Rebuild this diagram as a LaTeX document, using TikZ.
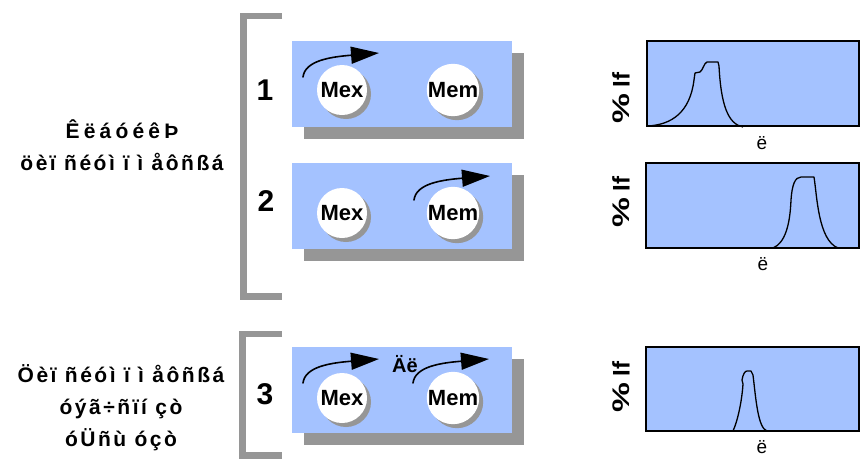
\documentclass[tikz,border=0pt]{standalone}
\usepackage{fontspec}
\setmainfont{Liberation Sans}
\newfontfamily\spacedsans[LetterSpace=12]{Liberation Sans}
\newfontfamily\widesans[LetterSpace=20]{Liberation Sans}
\usetikzlibrary{arrows.meta,shadows}

\definecolor{panelblue}{RGB}{164,194,255}
\definecolor{shadowgray}{RGB}{150,150,150}

\begin{document}
\begin{tikzpicture}[x=1pt,y=-1pt,
  panel/.style={fill=panelblue, draw=none, minimum width=220pt, minimum height=86pt,
    inner sep=0pt, drop shadow={shadow xshift=12pt, shadow yshift=-12pt, fill=shadowgray, opacity=1}},
  dot/.style={circle, fill=white, minimum size=50pt, inner sep=0pt,
    font=\bfseries\fontsize{22}{22}\selectfont,
    drop shadow={shadow xshift=4pt, shadow yshift=-4pt, fill=shadowgray, opacity=1}},
  flow/.style={-{Triangle[length=28pt,width=17pt]}, line width=1.6pt, line cap=round},
  bracket/.style={draw=shadowgray, line width=6.5pt, line join=miter},
  stepno/.style={font=\bfseries\fontsize{30}{30}\selectfont},
  caption/.style={align=center, font=\spacedsans\bfseries\fontsize{21}{32}\selectfont},
  plotframe/.style={fill=panelblue, draw=black, line width=2pt},
  peak/.style={line width=1.3pt, line join=round},
  ylab/.style={rotate=90, font=\bfseries\fontsize{24}{24}\selectfont},
  xlab/.style={font=\fontsize{19}{19}\selectfont}]
\useasboundingbox (0,0) rectangle (860,459);

% brackets grouping the steps
\draw[bracket] (282,16) -- (243.5,16) -- (243.5,296.5) -- (282,296.5);
\draw[bracket] (282,334) -- (242.5,334) -- (242.5,455.5) -- (282,455.5);

% left captions
\node[caption] (capA) at (122,145) {{\widesans\bfseries ÊëáóéêÞ}\\öèï ñéóì ï ì åôñßá};
\node[caption] (capB) at (121,408) {Öèï ñéóì ï ì åôñßá\\óýã÷ñïí çò\\óÜñù óçò};

% step numbers
\node[stepno] (n1) at (265,90) {1};
\node[stepno] (n2) at (266,201) {2};
\node[stepno] (n3) at (265,394) {3};

% panels
\node[panel] (p1) at (402,83.5) {};
\node[panel] (p2) at (402,206) {};
\node[panel] (p3) at (402,390) {};

% monochromator discs
\node[dot] (ex1) at (342,90) {Mex};
\node[dot] (em1) at (453,90) {Mem};
\node[dot] (ex2) at (342,213) {Mex};
\node[dot] (em2) at (453,213) {Mem};
\node[dot] (ex3) at (342,398) {Mex};
\node[dot] (em3) at (453,398) {Mem};

% scan arrows
\coordinate (a1s) at (303,77);   \coordinate (a1t) at (379,53);
\coordinate (a2s) at (414,200);  \coordinate (a2t) at (490,176);
\coordinate (a3s) at (303,383);  \coordinate (a3t) at (379,359);
\coordinate (a4s) at (413,383);  \coordinate (a4t) at (489,359);
\draw[flow] (a1s) .. controls +(2,-16) and +(-50,4) .. (a1t);
\draw[flow] (a2s) .. controls +(2,-16) and +(-50,4) .. (a2t);
\draw[flow] (a3s) .. controls +(2,-16) and +(-50,4) .. (a3t);
\draw[flow] (a4s) .. controls +(2,-16) and +(-50,4) .. (a4t);
\node[font=\bfseries\fontsize{20}{20}\selectfont] (dl) at (405,364) {Äë};

% spectra
\draw[plotframe] (647,41) rectangle (859,126);
\draw[plotframe] (646,163) rectangle (859,248);
\draw[plotframe] (646,347) rectangle (859,431);

\draw[peak] (647,126) .. controls (672,125) and (690,112) .. (694,80)
  -- (695,73) -- (700,72) .. controls (703,70) and (704,63) .. (707,62) -- (718,62)
  -- (719,66) .. controls (721,105) and (728,124) .. (743,127);
\draw[peak] (773,248) .. controls (785,243) and (790,225) .. (791,200)
  .. controls (792,185) and (795,177) .. (801,177) -- (814,177)
  .. controls (817,195) and (818,240) .. (838,248);
\draw[peak] (733,431) .. controls (738,420) and (742,400) .. (743,384)
  -- (742,380) .. controls (743,374) and (745,371) .. (747,371) -- (751,371)
  -- (753,375) .. controls (756,400) and (758,428) .. (767,431);

\node[ylab] (y1) at (621,98) {\scalebox{1.4}[1]{\%}\hspace{6pt}If};
\node[ylab] (y2) at (621,202) {\scalebox{1.4}[1]{\%}\hspace{6pt}If};
\node[ylab] (y3) at (621,387) {\scalebox{1.4}[1]{\%}\hspace{6pt}If};
\node[xlab] (x1) at (762,143) {ë};
\node[xlab] (x2) at (763,264) {ë};
\node[xlab] (x3) at (762,447) {ë};
\end{tikzpicture}
\end{document}
